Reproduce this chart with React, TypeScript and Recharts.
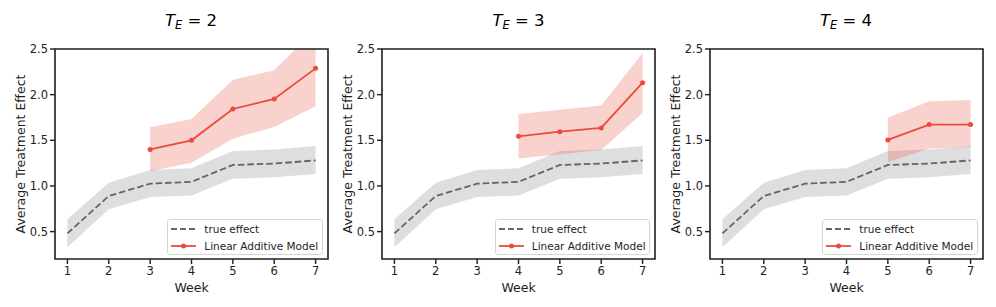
import React from "react";
import { Area, ComposedChart, Line, ReferenceArea, XAxis, YAxis } from "recharts";

// Shared x values (weeks) and the ground-truth curve with its band.
const WEEKS = [1, 2, 3, 4, 5, 6, 7];
const TRUE_EFFECT = [0.48, 0.89, 1.025, 1.045, 1.23, 1.245, 1.28];
const TRUE_LOW = [0.33, 0.745, 0.88, 0.895, 1.078, 1.095, 1.13];
const TRUE_HIGH = [0.635, 1.035, 1.175, 1.193, 1.383, 1.398, 1.437];

// Linear Additive Model estimate per panel (null before the model starts).
const LAM_MEAN_TE2 = [null, null, 1.4, 1.5, 1.843, 1.953, 2.288];
const LAM_LOW_TE2 = [null, null, 1.16, 1.255, 1.518, 1.646, 1.872];
const LAM_HIGH_TE2 = [null, null, 1.642, 1.733, 2.164, 2.266, 2.72];

const LAM_MEAN_TE3 = [null, null, null, 1.544, 1.595, 1.635, 2.131];
const LAM_LOW_TE3 = [null, null, null, 1.3, 1.347, 1.394, 1.8];
const LAM_HIGH_TE3 = [null, null, null, 1.788, 1.836, 1.88, 2.46];

const LAM_MEAN_TE4 = [null, null, null, null, 1.504, 1.672, 1.672];
const LAM_LOW_TE4 = [null, null, null, null, 1.26, 1.41, 1.427];
const LAM_HIGH_TE4 = [null, null, null, null, 1.748, 1.927, 1.942];

const TE_VALUES = [2, 3, 4];
const Y_TICKS = [0.5, 1.0, 1.5, 2.0, 2.5];
const X_DOMAIN: [number, number] = [0.7, 7.3];
const Y_DOMAIN: [number, number] = [0.2, 2.5];

const PANELS = [
  { te: TE_VALUES[0], mean: LAM_MEAN_TE2, low: LAM_LOW_TE2, high: LAM_HIGH_TE2 },
  { te: TE_VALUES[1], mean: LAM_MEAN_TE3, low: LAM_LOW_TE3, high: LAM_HIGH_TE3 },
  { te: TE_VALUES[2], mean: LAM_MEAN_TE4, low: LAM_LOW_TE4, high: LAM_HIGH_TE4 },
];

const FONT = "'DejaVu Sans', sans-serif";
const INK = "#1e1e1e";
const RED = "#e74c3c";
const GRAY_LINE = "#646464";

// layout (px)
const PLOT_LEFTS = [54.5, 382, 709.5];
const PLOT_W = 273;
const PLOT_TOP = 49;
const PLOT_BOTTOM = 259;
const Y_AXIS_W = 55;
const FIG_H = 307;

function LegendBox({ left }: { left: number }) {
  const rowStyle: React.CSSProperties = {
    display: "flex",
    alignItems: "center",
    height: 16.6,
  };
  return (
    <div
      style={{
        position: "absolute",
        left: left + 112.8,
        top: 219.3,
        width: 155.5,
        height: 35.7,
        boxSizing: "border-box",
        border: "1px solid #d6d6d6",
        borderRadius: 3,
        background: "rgba(255,255,255,0.8)",
        fontFamily: FONT,
        fontSize: 10.5,
        color: INK,
        padding: "0.5px 0 0 2px",
      }}
    >
      <div style={rowStyle}>
        <svg width={27} height={10} style={{ marginRight: 7 }}>
          <line x1={1} y1={5} x2={26} y2={5} stroke={GRAY_LINE} strokeWidth={1.8} strokeDasharray="6 3" />
        </svg>
        <span>true effect</span>
      </div>
      <div style={rowStyle}>
        <svg width={27} height={10} style={{ marginRight: 7 }}>
          <line x1={1} y1={5} x2={26} y2={5} stroke={RED} strokeWidth={1.8} />
          <circle cx={13.5} cy={5} r={2.5} fill={RED} />
        </svg>
        <span>Linear Additive Model</span>
      </div>
    </div>
  );
}

function Panel({ index }: { index: number }) {
  const p = PANELS[index];
  const plotLeft = PLOT_LEFTS[index];
  const chartLeft = plotLeft - Y_AXIS_W;
  const chartW = Y_AXIS_W + PLOT_W + 5;

  const data = WEEKS.map((w, i) => ({
    week: w,
    truth: TRUE_EFFECT[i],
    truthBand: [TRUE_LOW[i], TRUE_HIGH[i]],
    model: p.mean[i],
    modelBand: p.low[i] == null ? null : [p.low[i], p.high[i]],
  }));

  const tick = { fill: INK, fontSize: 11.5, fontFamily: FONT };

  return (
    <>
      <div
        style={{
          position: "absolute",
          left: plotLeft,
          top: 13,
          width: PLOT_W,
          textAlign: "center",
          fontFamily: FONT,
          fontSize: 16.5,
          lineHeight: "16px",
          color: "#000",
          whiteSpace: "nowrap",
        }}
      >
        <span style={{ fontStyle: "italic" }}>T</span>
        <span style={{ fontStyle: "italic", fontSize: 11.5, position: "relative", top: 2.5 }}>E</span>
        {` = ${p.te}`}
      </div>
      <div style={{ position: "absolute", left: chartLeft, top: 0 }}>
        <ComposedChart
          width={chartW}
          height={FIG_H}
          data={data}
          margin={{ top: PLOT_TOP, right: 5, bottom: 0, left: 0 }}
        >
          <XAxis
            dataKey="week"
            type="number"
            domain={X_DOMAIN}
            ticks={WEEKS}
            axisLine={false}
            tickLine={{ stroke: INK, strokeWidth: 1.4 }}
            tickSize={5}
            tickMargin={3}
            tick={tick}
            height={FIG_H - PLOT_BOTTOM}
            label={{
              value: "Week",
              position: "insideBottom",
              offset: 15,
              style: { fill: INK, fontSize: 12.5, fontFamily: FONT },
            }}
          />
          <YAxis
            type="number"
            domain={Y_DOMAIN}
            allowDataOverflow
            ticks={Y_TICKS}
            tickFormatter={(v: number) => v.toFixed(1)}
            axisLine={false}
            tickLine={{ stroke: INK, strokeWidth: 1.4 }}
            tickSize={5}
            tickMargin={2}
            tick={tick}
            width={Y_AXIS_W}
            label={{
              value: "Average Treatment Effect",
              angle: -90,
              position: "insideLeft",
              offset: 20.5,
              style: { fill: INK, fontSize: 12.5, fontFamily: FONT, textAnchor: "middle" },
            }}
          />
          <Area
            dataKey="truthBand"
            type="linear"
            stroke="none"
            fill="#80858b"
            fillOpacity={0.27}
            isAnimationActive={false}
            activeDot={false}
          />
          <Line
            dataKey="truth"
            type="linear"
            stroke={GRAY_LINE}
            strokeWidth={1.8}
            strokeDasharray="6.5 3"
            dot={false}
            activeDot={false}
            isAnimationActive={false}
          />
          <Area
            dataKey="modelBand"
            type="linear"
            stroke="none"
            fill={RED}
            fillOpacity={0.25}
            isAnimationActive={false}
            activeDot={false}
          />
          <Line
            dataKey="model"
            type="linear"
            stroke={RED}
            strokeWidth={1.8}
            dot={{ r: 2.5, fill: RED, stroke: "none" }}
            activeDot={false}
            isAnimationActive={false}
          />
          <ReferenceArea
            x1={X_DOMAIN[0]}
            x2={X_DOMAIN[1]}
            y1={Y_DOMAIN[0]}
            y2={Y_DOMAIN[1]}
            fill="none"
            stroke={INK}
            strokeWidth={1.6}
          />
        </ComposedChart>
      </div>
      <LegendBox left={plotLeft} />
    </>
  );
}

export default function App() {
  return (
    <div
      style={{
        position: "absolute",
        left: 0,
        top: 0,
        width: 996,
        height: FIG_H,
        background: "#fff",
        overflow: "hidden",
      }}
    >
      {PANELS.map((_, i) => (
        <Panel key={i} index={i} />
      ))}
    </div>
  );
}
